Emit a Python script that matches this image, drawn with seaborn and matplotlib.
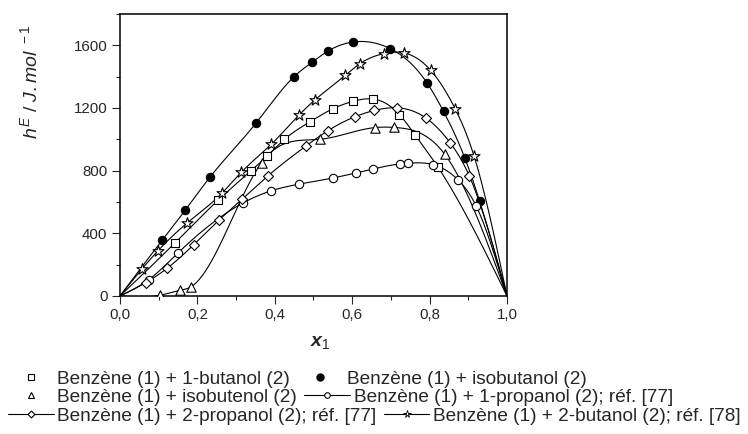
import numpy as np
import seaborn as sns
import matplotlib.pyplot as plt
from matplotlib.lines import Line2D
from matplotlib.ticker import MultipleLocator, FuncFormatter

# Benzène (1) + 1-butanol (2)  -- open squares
x_butanol1 = [0.143, 0.253, 0.338, 0.379, 0.425, 0.491, 0.550, 0.602, 0.655, 0.722, 0.762, 0.822]
h_butanol1 = [341, 610, 798, 891, 1000, 1112, 1195, 1242, 1257, 1158, 1030, 821]

# Benzène (1) + isobutanol (2)  -- filled circles
x_isobutanol = [0.109, 0.169, 0.232, 0.352, 0.449, 0.497, 0.538, 0.602, 0.698, 0.793, 0.836, 0.891, 0.929]
h_isobutanol = [356, 549, 757, 1105, 1398, 1493, 1564, 1621, 1579, 1361, 1178, 881, 608]

# Benzène (1) + isobutenol (2)  -- open triangles
x_isobutenol = [0.104, 0.155, 0.183, 0.366, 0.517, 0.659, 0.708, 0.839]
h_isobutenol = [5, 36, 58, 851, 1000, 1075, 1076, 905]

# Benzène (1) + 1-propanol (2); réf. [77]  -- open circles
x_propanol1 = [0.074, 0.150, 0.318, 0.389, 0.463, 0.550, 0.609, 0.655, 0.724, 0.743, 0.810, 0.874, 0.920]
h_propanol1 = [103, 275, 594, 670, 714, 753, 785, 811, 843, 847, 838, 740, 576]

# Benzène (1) + 2-propanol (2); réf. [77]  -- open diamonds
x_propanol2 = [0.066, 0.122, 0.190, 0.257, 0.316, 0.383, 0.481, 0.538, 0.606, 0.657, 0.717, 0.790, 0.854, 0.903]
h_propanol2 = [85, 177, 326, 487, 619, 768, 958, 1056, 1143, 1184, 1201, 1137, 975, 764]

# Benzène (1) + 2-butanol (2); réf. [78]  -- open stars
x_butanol2 = [0.057, 0.098, 0.174, 0.263, 0.313, 0.391, 0.463, 0.504, 0.582, 0.620, 0.682, 0.735, 0.803, 0.866, 0.915]
h_butanol2 = [173, 288, 467, 655, 789, 968, 1156, 1252, 1408, 1483, 1547, 1551, 1440, 1195, 892]

LABELS = [
    "Benzène (1) + 1-butanol (2)",
    "Benzène (1) + isobutanol (2)",
    "Benzène (1) + isobutenol (2)",
    "Benzène (1) + 1-propanol (2); réf. [77]",
    "Benzène (1) + 2-propanol (2); réf. [77]",
    "Benzène (1) + 2-butanol (2); réf. [78]",
]


def smooth_curve(xs, ys, n=400):
    """Natural cubic spline through the pure-component ends and the points (drawing only)."""
    x = np.r_[0.0, xs, 1.0]
    y = np.r_[0.0, ys, 0.0]
    o = np.argsort(x)
    x, y = x[o], y[o]
    h = np.diff(x)
    m = len(x)
    A = np.zeros((m, m))
    b = np.zeros(m)
    A[0, 0] = A[-1, -1] = 1
    for i in range(1, m - 1):
        A[i, i - 1] = h[i - 1]
        A[i, i] = 2 * (h[i - 1] + h[i])
        A[i, i + 1] = h[i]
        b[i] = 3 * ((y[i + 1] - y[i]) / h[i] - (y[i] - y[i - 1]) / h[i - 1])
    c = np.linalg.solve(A, b)
    bb = (y[1:] - y[:-1]) / h - h * (2 * c[:-1] + c[1:]) / 3
    d = (c[1:] - c[:-1]) / (3 * h)
    xx = np.linspace(0, 1, n)
    k = np.clip(np.searchsorted(x, xx) - 1, 0, m - 2)
    t = xx - x[k]
    yy = y[k] + bb[k] * t + c[k] * t ** 2 + d[k] * t ** 3
    return xx, yy


sns.set_style("ticks")
plt.rcParams["font.family"] = ["Liberation Sans", "DejaVu Sans"]
plt.rcParams["mathtext.fontset"] = "custom"
plt.rcParams["mathtext.rm"] = "Liberation Sans"
plt.rcParams["mathtext.it"] = "Liberation Sans:italic"
plt.rcParams["mathtext.bf"] = "Liberation Sans:bold"
plt.rcParams["mathtext.bfit"] = "Liberation Sans:bold:italic"

fig = plt.figure(figsize=(7.48, 4.34), dpi=100)
ax = fig.add_axes([0.1604, 0.318, 0.5174, 0.6498])

series = [
    (x_butanol1, h_butanol1, "s", "white", 30),
    (x_isobutanol, h_isobutanol, "o", "black", 36),
    (x_isobutenol, h_isobutenol, "^", "white", 46),
    (x_propanol1, h_propanol1, "o", "white", 36),
    (x_propanol2, h_propanol2, "D", "white", 26),
    (x_butanol2, h_butanol2, "*", "white", 70),
]

for xs, hs, mk, fc, s in series:
    xc, yc = smooth_curve(xs, hs)
    sns.lineplot(x=xc, y=yc, color="black", lw=0.8, sort=False, estimator=None, ax=ax, zorder=2)
for xs, hs, mk, fc, s in series:
    sns.scatterplot(x=xs, y=hs, marker=mk, s=s, facecolor=fc, edgecolor="black",
                    linewidth=0.8, ax=ax, zorder=3)

ax.set_xlim(0, 1.0)
ax.set_ylim(0, 1800)
ax.xaxis.set_major_locator(MultipleLocator(0.2))
ax.xaxis.set_minor_locator(MultipleLocator(0.1))
ax.yaxis.set_major_locator(MultipleLocator(400))
ax.yaxis.set_minor_locator(MultipleLocator(200))
ax.xaxis.set_major_formatter(FuncFormatter(lambda v, p: f"{v:.1f}".replace(".", ",")))
ax.tick_params(axis="both", which="major", direction="out", length=5.5, width=0.8,
               labelsize=10.8, top=False, right=False)
ax.tick_params(axis="both", which="minor", direction="out", length=3, width=0.8,
               top=False, right=False)
for sp in ax.spines.values():
    sp.set_linewidth(1.1)
    sp.set_color("black")

ax.set_xlabel(r"$\mathbfit{x}_{\mathit{1}}$", fontsize=14)
ax.xaxis.set_label_coords(0.517, -0.135)
ax.set_ylabel(r"$h^{E}$ / $J.mol^{\ -1}$", fontsize=14)
ax.yaxis.set_label_coords(-0.205, 0.76)

# legend, written as three rows like the original
row_handles = [
    [Line2D([], [], ls="none", marker="s", ms=4.5, mfc="white", mec="black", mew=0.8),
     Line2D([], [], ls="none", marker="o", ms=5, mfc="black", mec="black")],
    [Line2D([], [], ls="none", marker="^", ms=5, mfc="white", mec="black", mew=0.8),
     Line2D([], [], ls="-", color="black", lw=0.8, marker="o", ms=4, mfc="white", mec="black", mew=0.8)],
    [Line2D([], [], ls="-", color="black", lw=0.8, marker="D", ms=3.5, mfc="white", mec="black", mew=0.8),
     Line2D([], [], ls="-", color="black", lw=0.8, marker="*", ms=5.5, mfc="white", mec="black", mew=0.6)],
]
row_labels = [LABELS[0:2], LABELS[2:4], LABELS[4:6]]
row_y = [379, 397.5, 416]
for hnd, lab, yy in zip(row_handles, row_labels, row_y):
    fig.legend(hnd, lab, loc="center left", bbox_to_anchor=(8 / 748, 1 - yy / 434),
               ncol=2, frameon=False, borderpad=0, borderaxespad=0,
               handlelength=2.4, handletextpad=0.2, columnspacing=0.37,
               fontsize=13.7)

fig.savefig("out.png", dpi=100)
